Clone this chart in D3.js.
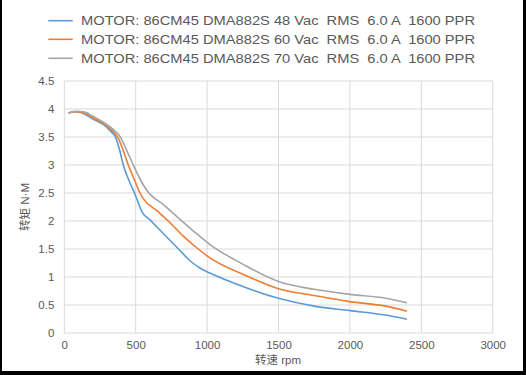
<!DOCTYPE html>
<html><head><meta charset="utf-8">
<script src="https://cdn.jsdelivr.net/npm/d3@7/dist/d3.min.js"></script>
<style>html,body{margin:0;padding:0;background:#fff;} svg{display:block;}</style>
</head><body>
<script>
const seriesNames = [
  "MOTOR: 86CM45 DMA882S 48 Vac  RMS  6.0 A  1600 PPR",
  "MOTOR: 86CM45 DMA882S 60 Vac  RMS  6.0 A  1600 PPR",
  "MOTOR: 86CM45 DMA882S 70 Vac  RMS  6.0 A  1600 PPR"
];
const colors = ["#5B9BD5", "#ED7D31", "#A5A5A5"];
const blue48 = [[30,3.93],[75,3.95],[125,3.93],[200,3.82],[275,3.72],[325,3.6],[362,3.48],[390,3.24],[413,3.0],[450,2.74],[495,2.48],[545,2.16],[600,2.02],[700,1.76],[800,1.5],[880,1.29],[950,1.16],[1020,1.07],[1250,0.83],[1500,0.62],[1750,0.48],[2000,0.40],[2250,0.32],[2400,0.245]];
const orange60 = [[30,3.93],[75,3.95],[125,3.94],[200,3.84],[275,3.74],[340,3.6],[378,3.48],[413,3.26],[448,3.0],[490,2.74],[530,2.5],[553,2.40],[650,2.18],[728,2.0],[833,1.73],[938,1.5],[1020,1.34],[1250,1.05],[1500,0.79],[1750,0.67],[2000,0.56],[2250,0.48],[2400,0.39]];
const gray70 = [[30,3.93],[75,3.96],[150,3.94],[200,3.87],[275,3.76],[340,3.64],[395,3.49],[437,3.26],[483,3.0],[530,2.75],[580,2.54],[700,2.28],[800,2.05],[900,1.83],[1020,1.58],[1250,1.23],[1500,0.92],[1750,0.78],[2000,0.69],[2250,0.62],[2400,0.54]];
const xTicks = [0,500,1000,1500,2000,2500,3000];
const yTicks = [0,0.5,1,1.5,2,2.5,3,3.5,4,4.5];
const xTitleCJK = "转速", xTitleUnit = " rpm";
const yTitleCJK = "转矩", yTitleUnit = " N·M";

const W = 526, H = 375;
const svg = d3.select("body").append("svg").attr("width", W).attr("height", H);
const font = "'Liberation Sans', Arial, sans-serif";
const cjk = "'Noto Sans CJK SC', sans-serif";
const textColor = "#595959";

const x = d3.scaleLinear().domain([0,3000]).range([64.3,492.7]);
const y = d3.scaleLinear().domain([0,4.5]).range([333,81]);

// gridlines
const g = svg.append("g");
g.selectAll("line.v").data(xTicks).join("line")
  .attr("x1", d=>x(d)).attr("x2", d=>x(d)).attr("y1", y(0)).attr("y2", y(4.5))
  .attr("stroke", "#D9D9D9").attr("stroke-width", 1);
g.selectAll("line.h").data(yTicks).join("line")
  .attr("x1", x(0)).attr("x2", x(3000)).attr("y1", d=>y(d)).attr("y2", d=>y(d))
  .attr("stroke", "#D9D9D9").attr("stroke-width", 1);

// axes labels via d3 axes
const xAxis = d3.axisBottom(x).tickValues(xTicks).tickSize(0).tickPadding(8).tickFormat(d3.format("d"));
const xa = svg.append("g").attr("transform", `translate(0,${y(0)})`).call(xAxis);
xa.select(".domain").remove();
xa.selectAll("text").attr("fill", textColor).style("font-family", font).style("font-size", "11.5px");

const yAxis = d3.axisLeft(y).tickValues(yTicks).tickSize(0).tickPadding(10).tickFormat(d=>String(d));
const ya = svg.append("g").attr("transform", `translate(${x(0)},0)`).call(yAxis);
ya.select(".domain").remove();
ya.selectAll("text").attr("fill", textColor).style("font-family", font).style("font-size", "11.5px");

// lines
const line = d3.line().x(d=>x(d[0])).y(d=>y(d[1])).curve(d3.curveMonotoneX);
[blue48, orange60, gray70].forEach((s,i)=>{
  svg.append("path").attr("d", line(s)).attr("fill","none")
    .attr("stroke", colors[i]).attr("stroke-width", 1.6).attr("stroke-linejoin","round");
});

// titles
const xt = svg.append("text").attr("x", 278).attr("y", 364).attr("text-anchor","middle")
  .attr("fill", textColor).style("font-size","11.5px");
xt.append("tspan").style("font-family", cjk).text(xTitleCJK);
xt.append("tspan").style("font-family", font).attr("xml:space","preserve").text(xTitleUnit);
const yt = svg.append("text").attr("transform","translate(29,207) rotate(-90)").attr("text-anchor","middle")
  .attr("fill", textColor).style("font-size","11.5px");
yt.append("tspan").style("font-family", cjk).text(yTitleCJK);
yt.append("tspan").style("font-family", font).attr("xml:space","preserve").text(yTitleUnit);

// legend
const legY = [20.7, 39.3, 58.3];
seriesNames.forEach((n,i)=>{
  svg.append("line").attr("x1",48.3).attr("x2",72.7).attr("y1",legY[i]).attr("y2",legY[i])
    .attr("stroke", colors[i]).attr("stroke-width",1.6);
  const t = svg.append("text").attr("x",81).attr("y",legY[i]+4.6).attr("fill",textColor)
    .style("font-family", font).style("font-size","13px").style("white-space","pre").attr("xml:space","preserve").text(n);
  t.attr("textLength", 394).attr("lengthAdjust","spacingAndGlyphs");
});

// frame
svg.append("rect").attr("x",0).attr("y",0).attr("width",2).attr("height",H).attr("fill","#000");
svg.append("rect").attr("x",523).attr("y",0).attr("width",3).attr("height",H).attr("fill","#000");
svg.append("rect").attr("x",0).attr("y",371).attr("width",W).attr("height",4).attr("fill","#000");
</script>
</body></html>
